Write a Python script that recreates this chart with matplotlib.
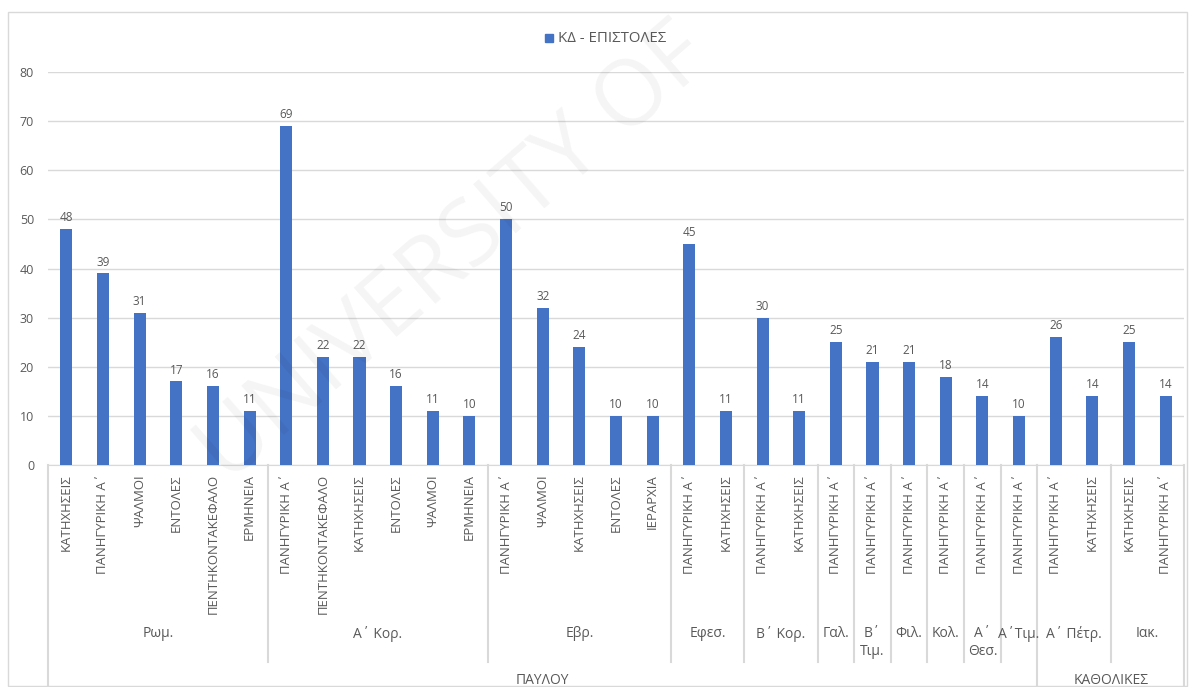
import matplotlib
matplotlib.use("Agg")
import matplotlib.pyplot as plt
from matplotlib.transforms import blended_transform_factory
from matplotlib.patches import Rectangle
from matplotlib.lines import Line2D

plt.rcParams['font.family'] = ['Open Sans', 'DejaVu Sans']

# ---- data ----
groups = ["Ρωμ.", "Α΄ Κορ.", "Εβρ.", "Εφεσ.", "Β΄ Κορ.", "Γαλ.", "Β΄\nΤιμ.", "Φιλ.", "Κολ.",
          "Α΄\nΘεσ.", "Α΄Τιμ.", "Α΄ Πέτρ.", "Ιακ."]
group_cats = [
    ["ΚΑΤΗΧΗΣΕΙΣ", "ΠΑΝΗΓΥΡΙΚΗ Α΄", "ΨΑΛΜΟΙ", "ΕΝΤΟΛΕΣ", "ΠΕΝΤΗΚΟΝΤΑΚΕΦΑΛΟ", "ΕΡΜΗΝΕΙΑ"],
    ["ΠΑΝΗΓΥΡΙΚΗ Α΄", "ΠΕΝΤΗΚΟΝΤΑΚΕΦΑΛΟ", "ΚΑΤΗΧΗΣΕΙΣ", "ΕΝΤΟΛΕΣ", "ΨΑΛΜΟΙ", "ΕΡΜΗΝΕΙΑ"],
    ["ΠΑΝΗΓΥΡΙΚΗ Α΄", "ΨΑΛΜΟΙ", "ΚΑΤΗΧΗΣΕΙΣ", "ΕΝΤΟΛΕΣ", "ΙΕΡΑΡΧΙΑ"],
    ["ΠΑΝΗΓΥΡΙΚΗ Α΄", "ΚΑΤΗΧΗΣΕΙΣ"],
    ["ΠΑΝΗΓΥΡΙΚΗ Α΄", "ΚΑΤΗΧΗΣΕΙΣ"],
    ["ΠΑΝΗΓΥΡΙΚΗ Α΄"],
    ["ΠΑΝΗΓΥΡΙΚΗ Α΄"],
    ["ΠΑΝΗΓΥΡΙΚΗ Α΄"],
    ["ΠΑΝΗΓΥΡΙΚΗ Α΄"],
    ["ΠΑΝΗΓΥΡΙΚΗ Α΄"],
    ["ΠΑΝΗΓΥΡΙΚΗ Α΄"],
    ["ΠΑΝΗΓΥΡΙΚΗ Α΄", "ΚΑΤΗΧΗΣΕΙΣ"],
    ["ΚΑΤΗΧΗΣΕΙΣ", "ΠΑΝΗΓΥΡΙΚΗ Α΄"],
]
group_values = [
    [48, 39, 31, 17, 16, 11],
    [69, 22, 22, 16, 11, 10],
    [50, 32, 24, 10, 10],
    [45, 11],
    [30, 11],
    [25], [21], [21], [18], [14], [10],
    [26, 14],
    [25, 14],
]
top_groups = ["ΠΑΥΛΟΥ", "ΚΑΘΟΛΙΚΕΣ"]
top_group_sizes = [11, 2]   # number of second-level groups in each
series_name = "ΚΔ - ΕΠΙΣΤΟΛΕΣ"
yticks = [0, 10, 20, 30, 40, 50, 60, 70, 80]

# ---- figure ----
W, H = 1190, 687
fig = plt.figure(figsize=(W / 100, H / 100), dpi=100)
def fy(py):
    return 1 - py / H
def fx(px):
    return px / W

left_px, right_px, y0_px, y80_px = 48, 1184, 465, 72
ax = fig.add_axes([fx(left_px), fy(y0_px), fx(right_px) - fx(left_px), fy(y80_px) - fy(y0_px)])

txt = "#595959"
grid = "#d9d9d9"
blue = "#4472C4"

# chart frame
fig.patches.append(Rectangle((fx(8), fy(686)), fx(1187) - fx(8), fy(12) - fy(686),
                             transform=fig.transFigure, fill=False, edgecolor="#d9d9d9", lw=1))

cats, vals = [], []
for c, v in zip(group_cats, group_values):
    cats += c
    vals += v
n = len(vals)
xs = list(range(n))
bars = ax.bar(xs, vals, width=0.33, color=blue, zorder=3)
for x, v in zip(xs, vals):
    ax.text(x, v + 1.0, str(v), ha="center", va="bottom", fontsize=8.5, color=txt, zorder=4)

ax.set_xlim(-0.5, n - 0.5)
ax.set_ylim(0, 80)
ax.set_yticks(yticks)
ax.set_yticklabels([str(t) for t in yticks], fontsize=9, color=txt)
ax.tick_params(axis="y", length=0, pad=10)
ax.tick_params(axis="x", length=0, labelbottom=False)
ax.yaxis.grid(True, color=grid, lw=1, zorder=0)
for s in ["top", "right", "left"]:
    ax.spines[s].set_visible(False)
ax.spines["bottom"].set_color(grid)
ax.set_facecolor("none")

tr = blended_transform_factory(ax.transData, fig.transFigure)

# level 1 labels
for x, c in zip(xs, cats):
    ax.text(x, fy(474), c, rotation=90, ha="center", va="top", fontsize=9.5,
            color=txt, transform=tr, clip_on=False)

# level 2 labels & separators
pos = 0
bounds2 = [-0.5]
for g, c in zip(groups, group_cats):
    start = pos
    pos += len(c)
    bounds2.append(pos - 0.5)
    cx = (start + pos - 1) / 2
    ax.text(cx, fy(626), g, ha="center", va="top", fontsize=10, color=txt,
            transform=tr, clip_on=False, linespacing=1.3)

# level 3
gi = 0
bounds3 = [-0.5]
tpos = 0
for tg, size in zip(top_groups, top_group_sizes):
    start = tpos
    for k in range(size):
        tpos += len(group_cats[gi]); gi += 1
    bounds3.append(tpos - 0.5)
    cx = (start + tpos - 1) / 2
    ax.text(cx, fy(673), tg, ha="center", va="top", fontsize=10, color=txt,
            transform=tr, clip_on=False)

for b in bounds2:
    if b in bounds3:
        continue
    ax.add_line(Line2D([b, b], [fy(465), fy(662)], transform=tr, color=grid, lw=1.5, clip_on=False))
for b in bounds3:
    ax.add_line(Line2D([b, b], [fy(465), fy(687)], transform=tr, color=grid, lw=1.5, clip_on=False))

# legend
fig.patches.append(Rectangle((fx(545), fy(42)), fx(553) - fx(545), fy(34) - fy(42),
                             transform=fig.transFigure, color=blue))
fig.text(fx(558), fy(38), series_name, ha="left", va="center", fontsize=10.8, color=txt)

# faint watermark
fig.text(fx(455), fy(255), "UNIVERSITY OF", rotation=41, ha="center", va="center",
         fontsize=66, color="#000000", alpha=0.045, zorder=0)

fig.savefig("out.png", dpi=100)
